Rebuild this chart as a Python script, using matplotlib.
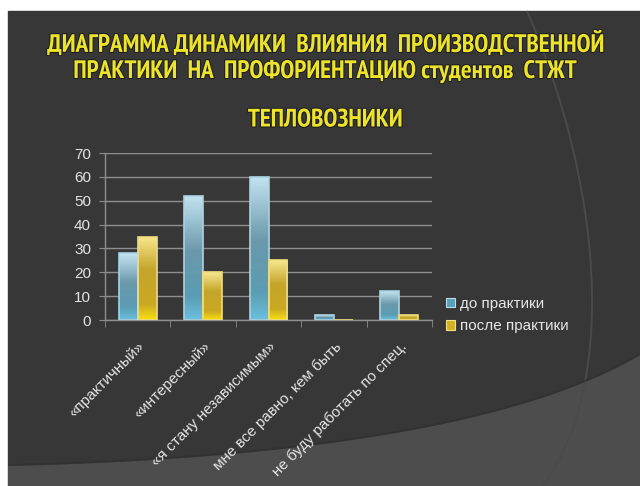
import matplotlib
matplotlib.use("Agg")
import matplotlib.pyplot as plt
import matplotlib.patheffects as pe
import numpy as np
from matplotlib.colors import LinearSegmentedColormap
from matplotlib.patches import Patch, Polygon, Rectangle, PathPatch
from matplotlib.path import Path as MPath

categories = [
    "«практичный»",
    "«интересный»",
    "«я стану независимым»",
    "мне все равно, кем быть",
    "не буду работать по спец.",
]
before = [28, 52, 60, 2, 12]
after = [35, 20, 25, 0, 2]
series_names = ["до практики", "после практики"]
title_lines = [
    "ДИАГРАММА ДИНАМИКИ  ВЛИЯНИЯ  ПРОИЗВОДСТВЕННОЙ",
    "ПРАКТИКИ  НА  ПРОФОРИЕНТАЦИЮ студентов  СТЖТ",
    "ТЕПЛОВОЗНИКИ",
]
yticks = [0, 10, 20, 30, 40, 50, 60, 70]

W, H = 640, 486
plt.rcParams["font.family"] = ["Liberation Sans", "DejaVu Sans"]
fig = plt.figure(figsize=(W / 100, H / 100), dpi=100)

# slide background in pixel coordinates
bg = fig.add_axes([0, 0, 1, 1], zorder=-5)
bg.set_xlim(0, W)
bg.set_ylim(H, 0)
bg.axis("off")
bg.add_patch(Rectangle((0, 0), W, H, color="white"))
bg.add_patch(Rectangle((8, 11), W - 8, H - 11, color="#373737"))

t = np.linspace(0, 1, 80)
p0, p1, p2 = np.array([8, 466]), np.array([470, 455]), np.array([640, 355])
curve = ((1 - t) ** 2)[:, None] * p0 + (2 * (1 - t) * t)[:, None] * p1 + (t ** 2)[:, None] * p2
lower = np.vstack([curve, [[640, 486], [8, 486]]])
bg.add_patch(Polygon(lower, closed=True, color="#4d4d4d", lw=0))
bg.plot(curve[:, 0], curve[:, 1] - 1, color="#303030", lw=1.5, alpha=0.6,
        solid_capstyle="butt")

arc = MPath([(527, 11), (600, 180), (620, 380), (543, 486)],
            [MPath.MOVETO, MPath.CURVE4, MPath.CURVE4, MPath.CURVE4])
bg.add_patch(PathPatch(arc, fc="none", ec="#4a4a4a", lw=1.4))

title_kw = dict(ha="center", va="center", color="#ece32a", fontweight="bold",
                family=["PT Sans Narrow", "DejaVu Sans"], fontsize=18.2,
                path_effects=[pe.withStroke(linewidth=1.5, foreground="#1e1e1e")])
for line, yy in zip(title_lines, [44, 71, 120]):
    bg.text(325, yy, line, **title_kw)

# chart
ax = fig.add_axes([105 / W, 1 - 320 / H, (432 - 105) / W, (320 - 153) / H])
ax.set_facecolor("none")
x = np.arange(len(categories))
bw = 0.29
bars_b = ax.bar(x - bw / 2, before, bw, facecolor="none", edgecolor="#a9d3e3",
                linewidth=1.2, zorder=3)
bars_a = ax.bar(x + bw / 2, after, bw, facecolor="none", edgecolor="#f0dc80",
                linewidth=1.2, zorder=3)

blue_cmap = LinearSegmentedColormap.from_list(
    "blue_bar", [(0, "#6bbfdc"), (0.18, "#5b9db4"), (0.55, "#6a98aa"), (1, "#c3e3f0")])
gold_cmap = LinearSegmentedColormap.from_list(
    "gold_bar", [(0, "#f7de12"), (0.18, "#c9a923"), (0.6, "#c4a52a"), (1, "#f6e68d")])
grad = np.linspace(0, 1, 64).reshape(-1, 1)
for bars, cmap in [(bars_b, blue_cmap), (bars_a, gold_cmap)]:
    for bar in bars:
        h = bar.get_height()
        if h <= 0:
            continue
        x0 = bar.get_x()
        im = ax.imshow(grad, extent=[x0, x0 + bar.get_width(), 0, h], origin="lower",
                       cmap=cmap, aspect="auto", zorder=2)
        im.set_clip_path(bar)

ax.set_xlim(-0.5, len(categories) - 0.5)
ax.set_ylim(0, 70)
ax.set_yticks(yticks)
ax.yaxis.grid(True, color="#8e8e8e", linewidth=1)
ax.set_axisbelow(True)
for side in ["top", "right"]:
    ax.spines[side].set_visible(False)
for side in ["left", "bottom"]:
    ax.spines[side].set_color("#8e8e8e")
    ax.spines[side].set_linewidth(1)
ax.tick_params(axis="y", colors="#8e8e8e", length=4, labelcolor="#e4e4e4",
               labelsize=11, pad=6)
ax.set_xticks(x)
ax.set_xticklabels(categories, rotation=45, ha="right", va="top",
                   rotation_mode="anchor", color="#e4e4e4", fontsize=11)
ax.tick_params(axis="x", length=0, pad=14)
ax.set_xticks(np.arange(len(categories) + 1) - 0.5, minor=True)
ax.tick_params(axis="x", which="minor", length=5, color="#8e8e8e")

handles = [Patch(facecolor="#5aa0b8", edgecolor="#b8dcea", lw=0.8),
           Patch(facecolor="#d2b126", edgecolor="#f2e08a", lw=0.8)]
fig.legend(handles, series_names, loc="center left", bbox_to_anchor=(432 / W, 1 - 315 / H),
           frameon=False, fontsize=11, labelcolor="#e6e6e6", handlelength=0.6,
           handleheight=0.6, handletextpad=0.3, labelspacing=0.55)

fig.savefig("out.png", dpi=100)
